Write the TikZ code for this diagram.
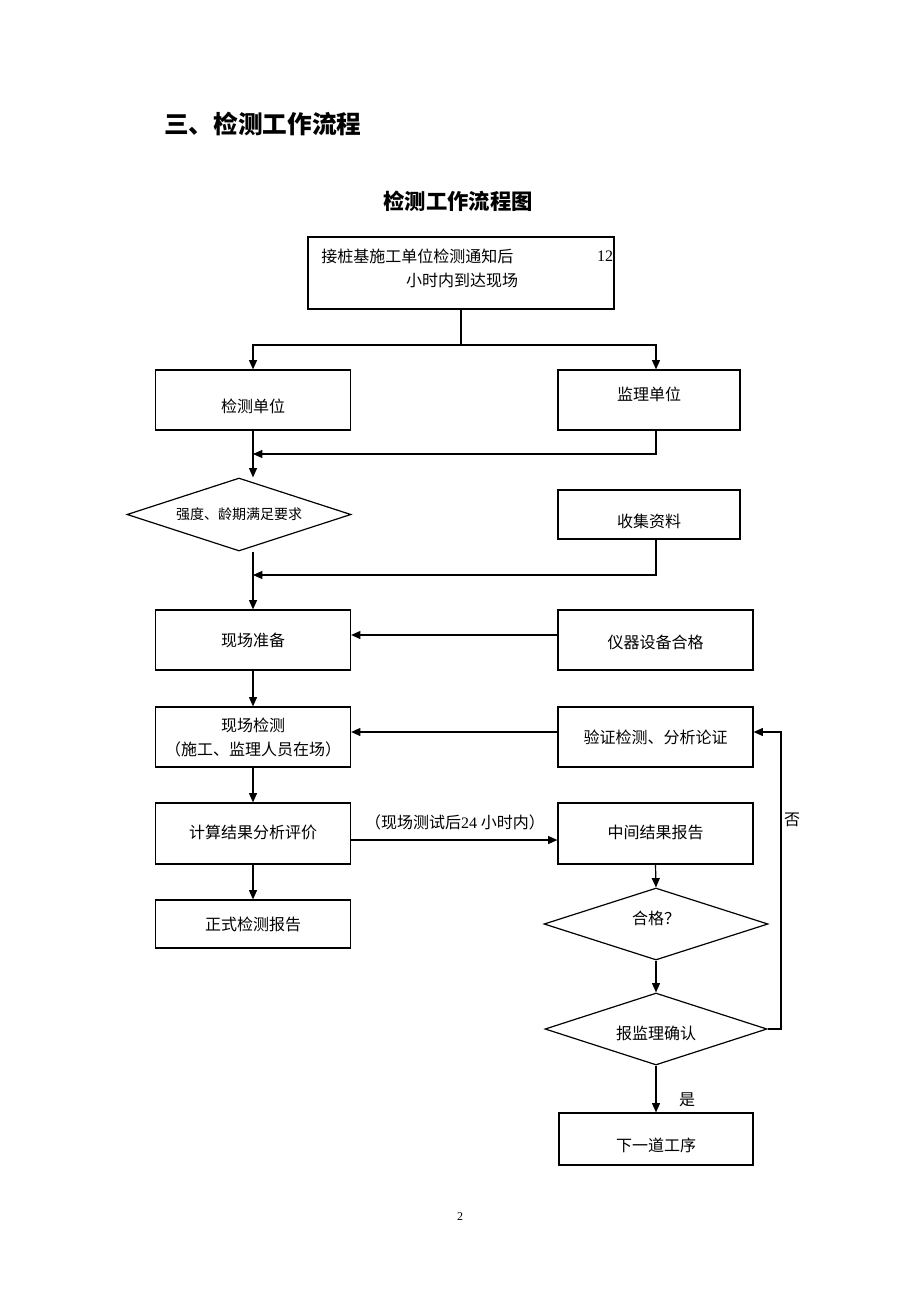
\documentclass[tikz,border=0pt]{standalone}
\usepackage{fontspec}
\usetikzlibrary{arrows.meta,shapes.geometric}
\newfontfamily\cjk{Noto Sans CJK SC}
\newfontfamily\lser{Liberation Serif}
\begin{document}
\begin{tikzpicture}[x=0.75pt,y=-0.75pt,
  every node/.style={font=\cjk\fontsize{12}{14}\selectfont},
  box/.style={draw,line width=0.9pt,rectangle,inner sep=0pt,align=center},
  dia/.style={draw,line width=0.9pt,diamond,inner sep=0pt,aspect=3},
  txt/.style={inner sep=0pt},
  arr/.style={line width=0.9pt,-{Triangle[length=7pt,width=6pt]}},
  ln/.style={line width=0.9pt}]
\path[use as bounding box,fill=white] (0,0) rectangle (920,1302);
% titles
\node[txt,anchor=west,font=\cjk\bfseries\fontsize{18.5}{20}\selectfont] (title) at (164,124) {三、检测工作流程};
\node[txt,font=\cjk\bfseries\fontsize{16}{18}\selectfont] (subtitle) at (458,201) {检测工作流程图};
% top box
\node[box,minimum width=229.5pt,minimum height=54pt] (top) at (461,273) {};
\node[txt,anchor=west] (t1) at (321,256) {接桩基施工单位检测通知后};
\node[txt] (t12) at (605,256) {\lser 12};
\node[txt] (t2) at (462,280) {小时内到达现场};
% boxes
\node[box,minimum width=146.25pt,minimum height=45pt,label={[txt,yshift=-4.5pt]center:检测单位}] (jc) at (253,400) {};
\node[box,minimum width=136.5pt,minimum height=45pt,label={[txt,yshift=4.5pt]center:监理单位}] (jl) at (649,400) {};
\node[dia,minimum width=168pt,minimum height=54.75pt] (d1) at (239,514.5) {\fontsize{10.5}{12}\selectfont 强度、龄期满足要求};
\node[box,minimum width=136.5pt,minimum height=36.75pt,label={[txt,yshift=-5pt]center:收集资料}] (sj) at (649,514.5) {};
\node[box,minimum width=146.25pt,minimum height=45pt] (zb) at (253,640) {现场准备};
\node[box,minimum width=146.25pt,minimum height=45pt,label={[txt,yshift=-1.5pt]center:仪器设备合格}] (yq) at (655.5,640) {};
\node[box,minimum width=146.25pt,minimum height=45pt] (xc) at (253,737) {现场检测\\[4pt]（施工、监理人员在场）};
\node[box,minimum width=146.25pt,minimum height=45pt] (yz) at (655.5,737) {验证检测、分析论证};
\node[box,minimum width=146.25pt,minimum height=45.75pt,label={[txt,yshift=1pt]center:计算结果分析评价}] (js) at (253,833.5) {};
\node[box,minimum width=146.25pt,minimum height=45.75pt,label={[txt,yshift=1pt]center:中间结果报告}] (zj) at (655.5,833.5) {};
\node[box,minimum width=146.25pt,minimum height=36pt] (zs) at (253,924) {正式检测报告};
\node[dia,minimum width=168pt,minimum height=54pt,label={[txt,yshift=4.5pt]center:合格？}] (hg) at (656,924) {};
\node[dia,minimum width=166.5pt,minimum height=54pt,label={[txt,yshift=-3pt]center:报监理确认}] (bj) at (656,1029) {};
\node[box,minimum width=145.5pt,minimum height=39pt,label={[txt,yshift=-4.5pt]center:下一道工序}] (xy) at (656,1139) {};
% labels
\node[txt] (lab24) at (455,822) {（现场测试后{\lser 24} 小时内）};
\node[txt] (no) at (792,820) {否};
\node[txt] (yes) at (687,1100) {是};
\node[txt,font=\lser\fontsize{9}{10}\selectfont] (pg) at (460,1217) {2};
% guide coordinates
\coordinate (s1) at (461,345);
\coordinate (c656) at (656,0);
\coordinate (m1) at (253,454);
\coordinate (m2) at (253,575);
\coordinate (m3) at (455,635);
\coordinate (m4) at (455,732);
\coordinate (m5) at (455,840);
\coordinate (r1) at (781,1029);
\coordinate (r2) at (781,732);
% connectors
\draw[ln] (top.south) -- (s1);
\draw[arr] (s1) -| (jc.north);
\draw[arr] (s1) -| (jl.north -| c656);
\draw[arr] (jc.south) -- (jc.south |- d1.north);
\draw[arr] (jl.south -| c656) |- (m1);
\draw[arr] (d1.south -| jc.south) -- (zb.north);
\draw[arr] (sj.south -| c656) |- (m2);
\draw[arr] (yq.west |- m3) -- (zb.east |- m3);
\draw[arr] (zb.south) -- (xc.north);
\draw[arr] (yz.west |- m4) -- (xc.east |- m4);
\draw[arr] (xc.south) -- (js.north);
\draw[arr] (js.east |- m5) -- (zj.west |- m5);
\draw[arr] (js.south) -- (zs.north);
\draw[arr] (zj.south) -- (hg.north);
\draw[arr] (hg.south) -- (bj.north);
\draw[arr] (bj.east) -- (r1) -- (r2) -- (yz.east |- r2);
\draw[arr] (bj.south) -- (xy.north);
\end{tikzpicture}
\end{document}
